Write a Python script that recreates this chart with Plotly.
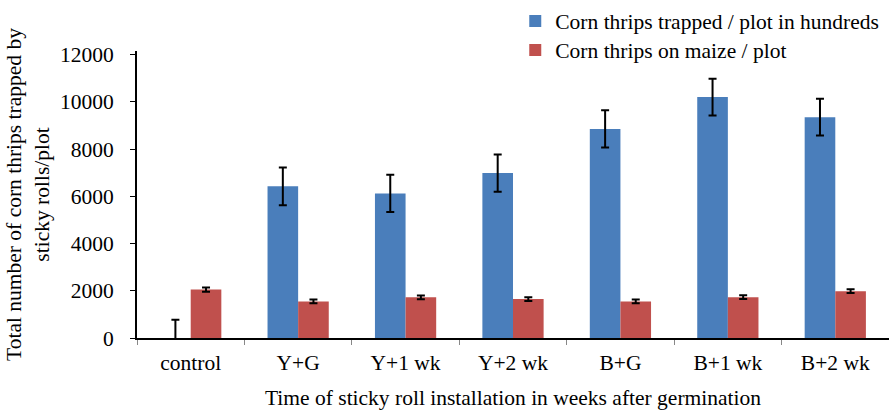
import plotly.graph_objects as go

categories = ["control", "Y+G", "Y+1 wk", "Y+2 wk", "B+G", "B+1 wk", "B+2 wk"]
trapped = [0, 6420, 6120, 6980, 8850, 10200, 9350]
trapped_err = [770, 800, 790, 790, 790, 780, 780]
on_maize = [2050, 1550, 1720, 1650, 1550, 1730, 1980]
on_maize_err = [90, 80, 80, 80, 80, 80, 80]
y_ticks = [0, 2000, 4000, 6000, 8000, 10000, 12000]
y_tick_text = [str(v) for v in y_ticks]

FONT = "Liberation Serif, Times New Roman, serif"
FS = 21.5

fig = go.Figure()
fig.add_trace(go.Bar(
    x=categories, y=trapped, name="Corn thrips trapped / plot in hundreds",
    marker=dict(color="#4A7EBB", line=dict(width=0)),
    error_y=dict(type="data", array=trapped_err, color="black", thickness=2, width=4),
    legend="legend",
))
fig.add_trace(go.Bar(
    x=categories, y=on_maize, name="Corn thrips on maize / plot",
    marker=dict(color="#C0504D", line=dict(width=0)),
    error_y=dict(type="data", array=on_maize_err, color="black", thickness=2, width=4),
    legend="legend2",
))

leg_common = dict(xanchor="left", yanchor="middle",
                  font=dict(family=FONT, size=FS, color="black"),
                  bgcolor="rgba(0,0,0,0)", itemwidth=30)

fig.update_layout(
    width=889, height=410,
    margin=dict(l=137, r=0, t=51, b=72),
    paper_bgcolor="white", plot_bgcolor="white",
    font=dict(family=FONT, size=FS, color="black"),
    barmode="group", bargap=0.43, bargroupgap=0,
    showlegend=True,
    legend=dict(x=0.503, y=1 + (51 - 21) / 287, **leg_common),
    legend2=dict(x=0.503, y=1 + (51 - 50) / 287, **leg_common),
    xaxis=dict(
        showline=True, linecolor="black", linewidth=2,
        ticks="outside", tickson="boundaries", ticklen=5, tickcolor="#888", tickwidth=1,
        tickfont=dict(family=FONT, size=FS), ticklabelstandoff=4,
        title=dict(text="Time of sticky roll installation in weeks after germination",
                   font=dict(family=FONT, size=FS), standoff=20),
        showgrid=False, zeroline=False,
    ),
    yaxis=dict(
        range=[0, 12150], tickvals=y_ticks, ticktext=y_tick_text,
        showline=True, linecolor="black", linewidth=2,
        ticks="outside", ticklen=5, tickcolor="black", tickwidth=1,
        tickfont=dict(family=FONT, size=FS), ticklabelstandoff=12,
        title=dict(text="Total number of corn thrips trapped by<br>sticky rolls/plot",
                   font=dict(family=FONT, size=FS), standoff=4),
        showgrid=False, zeroline=False,
    ),
)

fig.write_html("out.html")
